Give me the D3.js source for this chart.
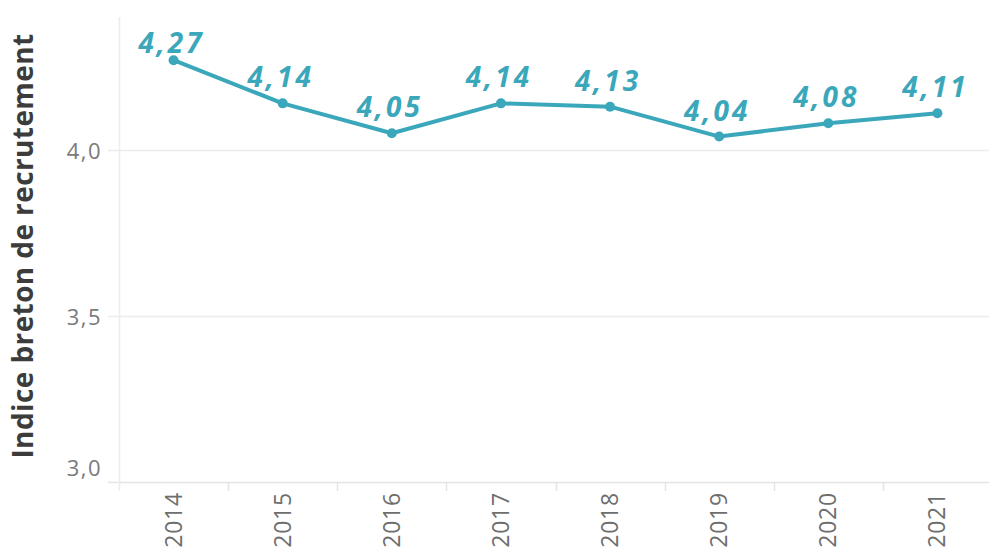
<!DOCTYPE html>
<html>
<head>
<meta charset="utf-8">
<script src="https://cdn.jsdelivr.net/npm/d3@7"></script>
<style>
  body { margin: 0; background: #fff; }
  svg { display: block; }
</style>
</head>
<body>
<div id="vis-container"></div>
<script>
// data
var years  = ["2014", "2015", "2016", "2017", "2018", "2019", "2020", "2021"];
var indice = [4.27, 4.14, 4.05, 4.14, 4.13, 4.04, 4.08, 4.11];
var yTicks = [3.0, 3.5, 4.0];
var yTitle = "Indice breton de recrutement";

var W = 989, H = 548;
var margin = { top: 17, right: -3, bottom: 66, left: 119 },
    width  = W - margin.left - margin.right,
    height = H - margin.top - margin.bottom;

var teal = "#3ba7bb";
var fmt = function(v, d) { return v.toFixed(d).replace(".", ","); };

var svg = d3.select("#vis-container").append("svg")
    .attr("width", W)
    .attr("height", H);

var canvas = svg.append("g")
    .attr("transform", "translate(" + margin.left + "," + margin.top + ")");

var xScale = d3.scaleBand()
    .domain(years)
    .range([0, width])
    .padding(0);

var yScale = d3.scaleLinear()
    .domain([3.0, 4.4])
    .range([height, 0]);

// horizontal gridlines (with short tick stubs to the left)
canvas.selectAll(".grid")
    .data(yTicks)
    .enter().append("line")
    .attr("class", "grid")
    .attr("x1", -11)
    .attr("x2", width)
    .attr("y1", function(d) { return Math.round(yScale(d)) + 0.5; })
    .attr("y2", function(d) { return Math.round(yScale(d)) + 0.5; })
    .style("stroke", function(d) { return d === 3.0 ? "#e4e4e4" : "#ececec"; })
    .style("stroke-width", 1.5);

// left axis line
canvas.append("line")
    .attr("x1", 0.5).attr("x2", 0.5)
    .attr("y1", 0).attr("y2", height + 9)
    .style("stroke", "#ececec")
    .style("stroke-width", 1.5);

// band edge ticks under the x baseline
canvas.selectAll(".xtick")
    .data(years.slice(1))
    .enter().append("line")
    .attr("class", "xtick")
    .attr("x1", function(d) { return Math.round(xScale(d)) + 0.5; })
    .attr("x2", function(d) { return Math.round(xScale(d)) + 0.5; })
    .attr("y1", height)
    .attr("y2", height + 9)
    .style("stroke", "#e4e4e4")
    .style("stroke-width", 1.5);

// y tick labels (bottom one nudged up like the original)
canvas.selectAll(".ylab")
    .data(yTicks)
    .enter().append("text")
    .attr("class", "ylab")
    .attr("x", -17)
    .attr("y", function(d) { return yScale(d) + (d === 3.0 ? -14 : 1.5); })
    .attr("dy", "0.35em")
    .style("text-anchor", "end")
    .style("font-family", "'Open Sans', sans-serif")
    .style("font-size", "22px")
    .style("letter-spacing", "1.5px")
    .style("fill", "#7a7a7a")
    .text(function(d) { return fmt(d, 1); });

// x labels, rotated
canvas.selectAll(".xlab")
    .data(years)
    .enter().append("text")
    .attr("class", "xlab")
    .attr("transform", function(d) {
        return "translate(" + (xScale(d) + xScale.bandwidth() / 2 + 8) + "," + (height + 10) + ") rotate(-90)";
    })
    .style("text-anchor", "end")
    .style("font-family", "'Open Sans', sans-serif")
    .style("font-size", "23px")
    .style("letter-spacing", "0.8px")
    .style("fill", "#6e6e6e")
    .text(function(d) { return d; });

// y axis title
svg.append("text")
    .attr("transform", "translate(33," + 246 + ") rotate(-90)")
    .style("text-anchor", "middle")
    .style("font-family", "'Open Sans', sans-serif")
    .style("font-weight", "bold")
    .style("font-size", "28px")
    .style("letter-spacing", "0.4px")
    .style("fill", "#3c3c3c")
    .text(yTitle);

// the line
var line = d3.line()
    .x(function(d, i) { return xScale(years[i]) + xScale.bandwidth() / 2; })
    .y(function(d) { return yScale(d); });

canvas.append("path")
    .datum(indice)
    .attr("d", line)
    .style("fill", "none")
    .style("stroke", teal)
    .style("stroke-width", 4)
    .style("stroke-linejoin", "round");

canvas.selectAll(".pt")
    .data(indice)
    .enter().append("circle")
    .attr("class", "pt")
    .attr("cx", function(d, i) { return xScale(years[i]) + xScale.bandwidth() / 2; })
    .attr("cy", function(d) { return yScale(d); })
    .attr("r", 5)
    .style("fill", teal);

// value labels
canvas.selectAll(".vlab")
    .data(indice)
    .enter().append("text")
    .attr("class", "vlab")
    .attr("x", function(d, i) { return xScale(years[i]) + xScale.bandwidth() / 2 - 2; })
    .attr("y", function(d) { return Math.max(yScale(d) - 16, 36); })
    .style("text-anchor", "middle")
    .style("font-family", "'Open Sans', sans-serif")
    .style("font-weight", "bold")
    .style("font-style", "italic")
    .style("font-size", "28px")
    .style("letter-spacing", "3px")
    .style("fill", teal)
    .text(function(d) { return fmt(d, 2); });
</script>
</body>
</html>
